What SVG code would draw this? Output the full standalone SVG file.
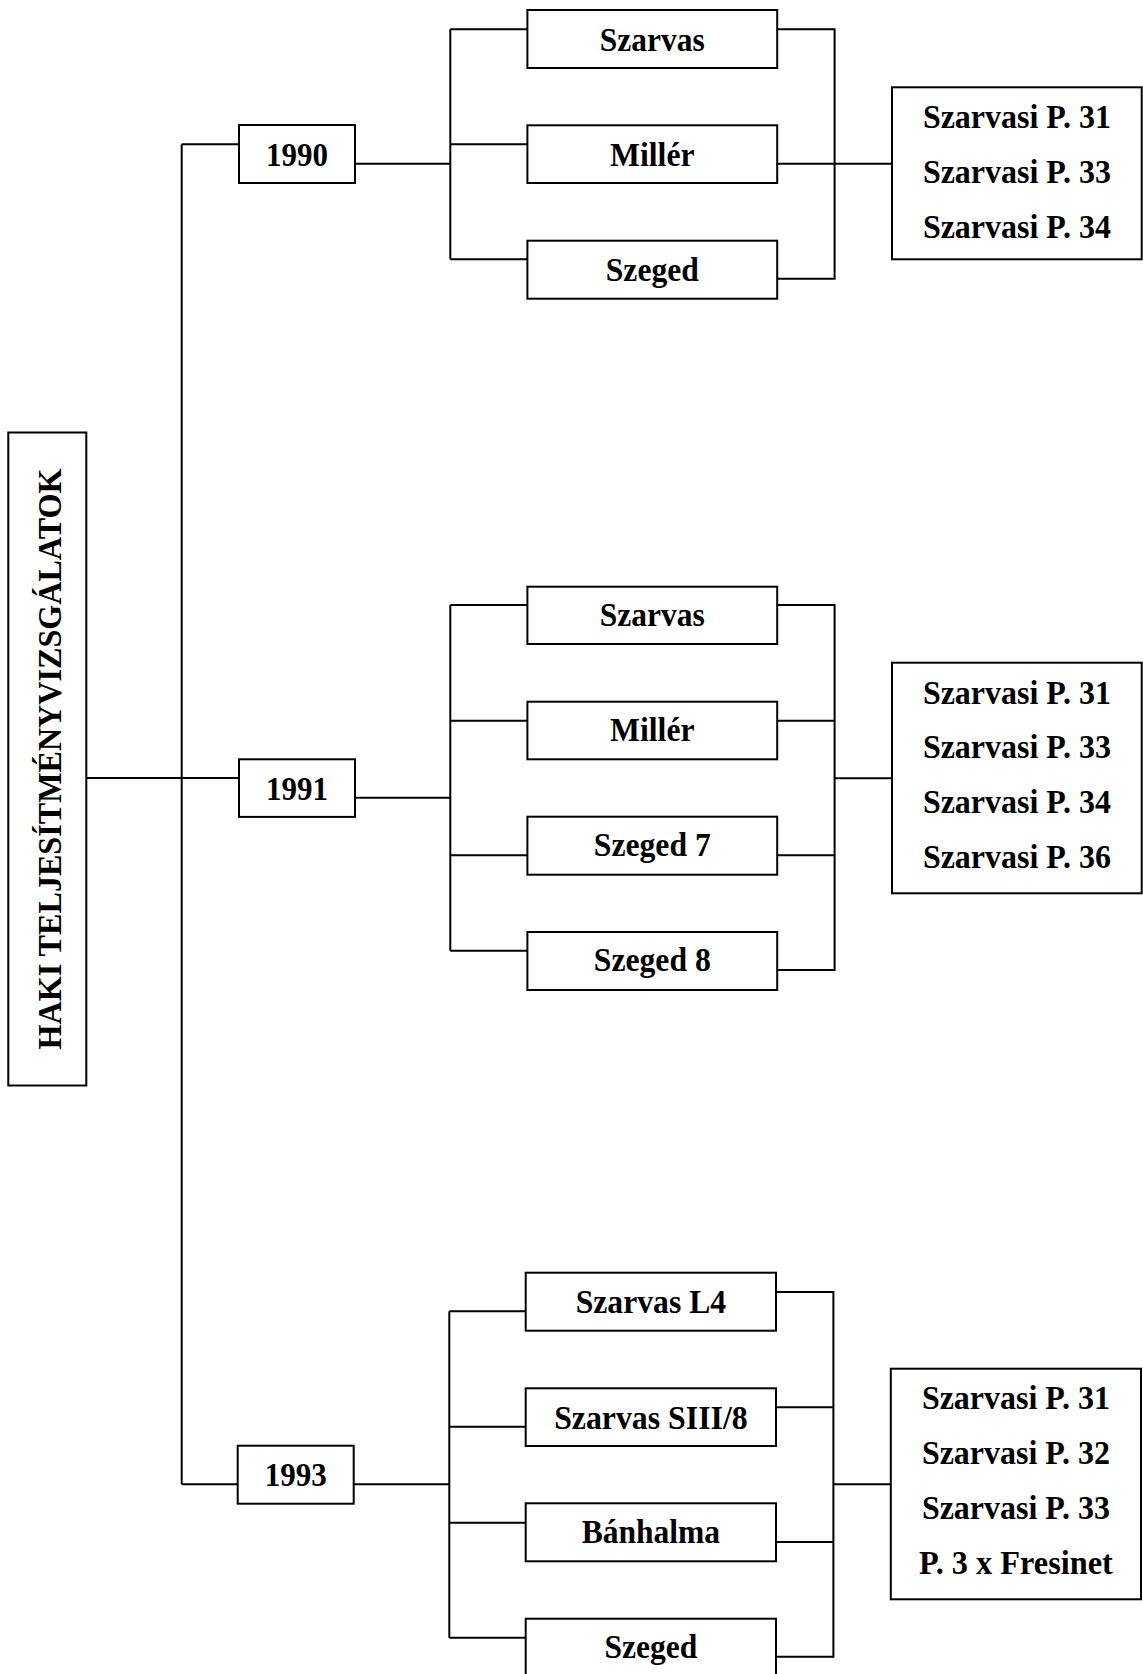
<svg xmlns="http://www.w3.org/2000/svg" width="1143" height="1674" viewBox="0 0 1143 1674">
<style>
.box{fill:#fff;stroke:#000;stroke-width:2}
.ln{fill:none;stroke:#000;stroke-width:2}
text{font-family:"Liberation Serif","Times New Roman",serif;font-weight:bold;font-size:33px;fill:#000;text-anchor:middle}
</style>
<rect width="1143" height="1674" fill="#fff"/>
<g id="connectors">
<path class="ln" d="M86.3,778 H239"/>
<path class="ln" d="M181.7,144.3 V1484.3"/>
<path class="ln" d="M181.7,144.3 H239 M181.7,1484.3 H237.7"/>
<path class="ln" d="M355,163.7 H450.3 M450.3,29.3 V259.3 M450.3,29.3 H527.4 M450.3,144.3 H527.4 M450.3,259.3 H527.4"/>
<path class="ln" d="M777.2,29.3 H834.6 V278.7 H777.2 M777.2,163.7 H892"/>
<path class="ln" d="M355,797.7 H450.3 M450.3,605 V950.7 M450.3,605 H527.4 M450.3,720.7 H527.4 M450.3,855.3 H527.4 M450.3,950.7 H527.4"/>
<path class="ln" d="M777.2,605 H834.6 V970 H777.2 M777.2,720.7 H834.6 M777.2,855.3 H834.6 M834.6,778.3 H892"/>
<path class="ln" d="M353.7,1484.3 H449.3 M449.3,1311.3 V1637.7 M449.3,1311.3 H525.7 M449.3,1426.7 H525.7 M449.3,1522.7 H525.7 M449.3,1637.7 H525.7"/>
<path class="ln" d="M776,1292 H833.4 V1656.7 H776 M776,1407.3 H833.4 M776,1542 H833.4 M833.4,1484.3 H890.8"/>
</g>
<g id="root">
<rect class="box" x="8.3" y="432.5" width="78" height="653"/>
<text transform="translate(60.7,759) rotate(-90)" x="0" y="0" font-size="34" textLength="581" lengthAdjust="spacingAndGlyphs">HAKI TELJESÍTMÉNYVIZSGÁLATOK</text>
</g>
<g id="y1990">
<rect class="box" x="239" y="125" width="116" height="58"/>
<text x="297" y="165.7" textLength="62" lengthAdjust="spacingAndGlyphs">1990</text>
</g>
<g id="y1991">
<rect class="box" x="239" y="759.3" width="116" height="57.6"/>
<text x="297" y="799.5" textLength="62" lengthAdjust="spacingAndGlyphs">1991</text>
</g>
<g id="y1993">
<rect class="box" x="237.7" y="1445.7" width="116" height="58"/>
<text x="295.7" y="1485.8" textLength="62" lengthAdjust="spacingAndGlyphs">1993</text>
</g>
<g id="n1990-szarvas"><rect class="box" x="527.4" y="10" width="249.8" height="58"/><text x="652.3" y="50.7" textLength="105" lengthAdjust="spacingAndGlyphs">Szarvas</text></g>
<g id="n1990-miller"><rect class="box" x="527.4" y="125.3" width="249.8" height="57.7"/><text x="652.3" y="165.7" textLength="84.5" lengthAdjust="spacingAndGlyphs">Millér</text></g>
<g id="n1990-szeged"><rect class="box" x="527.4" y="240.7" width="249.8" height="58"/><text x="652.3" y="280.9" textLength="93" lengthAdjust="spacingAndGlyphs">Szeged</text></g>
<g id="r1990">
<rect class="box" x="892" y="87.3" width="249.7" height="172"/>
<text x="1016.9" y="128" textLength="188" lengthAdjust="spacingAndGlyphs">Szarvasi P. 31</text>
<text x="1016.9" y="183" textLength="188" lengthAdjust="spacingAndGlyphs">Szarvasi P. 33</text>
<text x="1016.9" y="238" textLength="188" lengthAdjust="spacingAndGlyphs">Szarvasi P. 34</text>
</g>
<g id="n1991-szarvas"><rect class="box" x="527.4" y="586.7" width="249.8" height="57.3"/><text x="652.3" y="626" textLength="105" lengthAdjust="spacingAndGlyphs">Szarvas</text></g>
<g id="n1991-miller"><rect class="box" x="527.4" y="701.7" width="249.8" height="57.6"/><text x="652.3" y="740.7" textLength="84.5" lengthAdjust="spacingAndGlyphs">Millér</text></g>
<g id="n1991-szeged7"><rect class="box" x="527.4" y="816.7" width="249.8" height="58"/><text x="652.3" y="856" textLength="117" lengthAdjust="spacingAndGlyphs">Szeged 7</text></g>
<g id="n1991-szeged8"><rect class="box" x="527.4" y="932" width="249.8" height="58"/><text x="652.3" y="971" textLength="117" lengthAdjust="spacingAndGlyphs">Szeged 8</text></g>
<g id="r1991">
<rect class="box" x="892" y="662.7" width="249.7" height="230.6"/>
<text x="1016.9" y="704" textLength="188" lengthAdjust="spacingAndGlyphs">Szarvasi P. 31</text>
<text x="1016.9" y="758.3" textLength="188" lengthAdjust="spacingAndGlyphs">Szarvasi P. 33</text>
<text x="1016.9" y="813.3" textLength="188" lengthAdjust="spacingAndGlyphs">Szarvasi P. 34</text>
<text x="1016.9" y="867.7" textLength="188" lengthAdjust="spacingAndGlyphs">Szarvasi P. 36</text>
</g>
<g id="n1993-szarvasl4"><rect class="box" x="525.7" y="1272.7" width="250.3" height="58"/><text x="650.9" y="1313.3" textLength="150.5" lengthAdjust="spacingAndGlyphs">Szarvas L4</text></g>
<g id="n1993-szarvassiii8"><rect class="box" x="525.7" y="1388.3" width="250.3" height="57.7"/><text x="650.9" y="1428.7" textLength="193.5" lengthAdjust="spacingAndGlyphs">Szarvas SIII/8</text></g>
<g id="n1993-banhalma"><rect class="box" x="525.7" y="1503.3" width="250.3" height="58"/><text x="650.9" y="1543.3" textLength="138.5" lengthAdjust="spacingAndGlyphs">Bánhalma</text></g>
<g id="n1993-szeged"><rect class="box" x="525.7" y="1618.7" width="250.3" height="58"/><text x="650.9" y="1658.3" textLength="93" lengthAdjust="spacingAndGlyphs">Szeged</text></g>
<g id="r1993">
<rect class="box" x="890.8" y="1368.7" width="250.2" height="230.6"/>
<text x="1015.9" y="1409.3" textLength="188" lengthAdjust="spacingAndGlyphs">Szarvasi P. 31</text>
<text x="1015.9" y="1464" textLength="188" lengthAdjust="spacingAndGlyphs">Szarvasi P. 32</text>
<text x="1015.9" y="1518.7" textLength="188" lengthAdjust="spacingAndGlyphs">Szarvasi P. 33</text>
<text x="1015.9" y="1574" textLength="194" lengthAdjust="spacingAndGlyphs">P. 3 x Fresinet</text>
</g>
</svg>
